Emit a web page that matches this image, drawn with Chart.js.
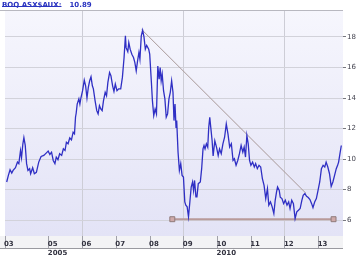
<!DOCTYPE html>
<html>
<head>
<meta charset="utf-8">
<script src="https://cdn.jsdelivr.net/npm/chart.js@4.4.1/dist/chart.umd.min.js"></script>
<style>
    html, body { margin: 0; padding: 0; background: #ffffff; }
    #wrap { width: 360px; height: 256px; position: relative; }
</style>
</head>
<body>
<div id="wrap"><canvas id="priceChart"></canvas></div>
<script>
// BOQ ASX$AUX - cotação semanal

const priceDates = [2003.75,2003.80,2003.85,2003.90,2003.94,2004.01,2004.07,2004.11,2004.16,2004.19,
    2004.23,2004.26,2004.30,2004.34,2004.38,2004.43,2004.46,2004.52,2004.57,2004.63,
    2004.70,2004.77,2004.85,2004.92,2004.98,2005.03,2005.08,2005.13,2005.18,2005.22,
    2005.27,2005.32,2005.38,2005.43,2005.48,2005.52,2005.57,2005.62,2005.67,2005.72,
    2005.76,2005.79,2005.81,2005.84,2005.89,2005.92,2005.95,2006.00,2006.05,2006.09,
    2006.13,2006.17,2006.21,2006.25,2006.29,2006.32,2006.37,2006.42,2006.46,2006.50,
    2006.54,2006.58,2006.62,2006.67,2006.71,2006.75,2006.80,2006.84,2006.89,2006.93,
    2006.97,2007.02,2007.07,2007.13,2007.18,2007.23,2007.27,2007.29,2007.34,2007.37,
    2007.41,2007.46,2007.51,2007.55,2007.59,2007.63,2007.67,2007.70,2007.74,2007.78,
    2007.82,2007.86,2007.90,2007.96,2007.99,2008.04,2008.07,2008.11,2008.15,2008.19,
    2008.23,2008.27,2008.30,2008.33,2008.36,2008.40,2008.44,2008.48,2008.52,2008.56,
    2008.60,2008.64,2008.68,2008.71,2008.74,2008.77,2008.79,2008.83,2008.87,2008.91,
    2008.95,2008.99,2009.03,2009.06,2009.10,2009.14,2009.18,2009.22,2009.26,2009.29,
    2009.32,2009.36,2009.39,2009.43,2009.49,2009.53,2009.57,2009.60,2009.63,2009.67,
    2009.71,2009.74,2009.77,2009.80,2009.84,2009.87,2009.92,2009.97,2010.02,2010.06,
    2010.11,2010.16,2010.21,2010.26,2010.31,2010.36,2010.41,2010.46,2010.50,2010.55,
    2010.60,2010.65,2010.70,2010.75,2010.79,2010.83,2010.87,2010.91,2010.95,2010.99,
    2011.04,2011.09,2011.13,2011.18,2011.23,2011.28,2011.33,2011.38,2011.43,2011.48,
    2011.52,2011.57,2011.62,2011.67,2011.71,2011.75,2011.78,2011.83,2011.86,2011.91,
    2011.96,2012.01,2012.06,2012.11,2012.15,2012.20,2012.25,2012.30,2012.35,2012.40,
    2012.45,2012.50,2012.54,2012.59,2012.64,2012.69,2012.74,2012.79,2012.83,2012.88,
    2012.93,2012.98,2013.03,2013.08,2013.13,2013.18,2013.22,2013.27,2013.32,2013.37,
    2013.42,2013.47,2013.52,2013.56,2013.59,2013.63,2013.67];

const priceValues = [8.5,8.93,9.3,9.08,9.26,9.43,9.8,9.7,10.56,10.1,
    11.0,11.4,10.9,9.7,9.26,9.37,9.04,9.43,9.04,9.13,
    9.8,10.17,10.24,10.39,10.52,10.3,10.45,9.91,9.7,10.13,
    9.96,10.35,10.24,10.67,10.56,11.1,11.0,11.39,11.26,11.76,
    11.65,12.74,13.0,13.6,13.94,13.6,14.0,14.48,15.17,14.8,
    14.0,14.7,15.13,15.39,14.8,14.6,13.83,13.17,12.96,13.5,
    13.28,13.17,13.83,14.37,14.15,15.02,15.67,15.46,14.8,14.43,
    14.91,14.48,14.6,14.6,15.35,16.65,18.07,17.3,17.04,17.63,
    17.2,16.87,16.65,16.32,15.78,16.43,16.98,16.54,18.07,18.44,
    18.0,17.2,17.45,17.2,16.87,15.02,13.83,12.85,13.28,12.96,
    16.1,15.24,16.0,15.13,15.57,14.48,13.94,12.74,12.96,13.94,
    14.37,15.13,14.37,12.52,13.6,12.08,12.52,10.45,9.26,9.7,
    8.93,8.82,7.19,6.98,6.87,6.22,7.19,8.17,8.5,7.95,
    8.6,7.52,7.52,8.39,8.5,9.37,10.67,10.89,10.67,11.0,
    10.78,12.08,12.74,12.08,11.2,10.2,11.2,10.78,10.24,10.67,
    10.35,11.0,11.43,12.3,11.65,10.78,11.0,9.91,10.02,9.59,
    9.91,10.35,10.89,10.45,10.78,10.13,11.54,11.0,9.91,9.59,
    9.8,9.48,9.7,9.37,9.59,9.48,8.72,8.28,7.41,8.06,
    6.98,7.19,6.87,6.43,7.3,7.85,8.17,7.95,7.5,7.41,
    7.08,7.3,6.98,7.19,6.76,7.3,7.08,6.1,6.54,6.65,
    6.76,7.3,7.63,7.74,7.56,7.48,7.35,7.08,6.82,7.19,
    7.41,7.95,8.5,9.37,9.59,9.48,9.8,9.48,9.04,8.21,
    8.5,8.93,9.37,9.59,9.8,10.35,10.89];

// linha de tendência de baixa e suporte
const trendDates = [2007.75, 2012.62];
const trendValues = [18.49, 7.76];
const supportDates = [2008.66, 2013.44];
const supportValues = [6.06, 6.06];

const yTicks = [6, 8, 10, 12, 14, 16, 18];
const xTicks = [2003.70, 2005, 2006, 2007, 2008, 2009, 2010, 2011, 2012, 2013];
const xTickLabels = ['03', '05', '06', '07', '08', '09', '10', '11', '12', '13'];
const xYearLabels = { 2005: '2005', 2010: '2010' };
const xGridYears = [2006, 2009, 2012];

const titleText = 'BOQ ASX$AUX:';
const lastValue = '10.89';

const toPoints = (xs, ys) => xs.map((x, i) => ({ x: x, y: ys[i] }));

const decorPlugin = {
    id: 'decor',
    beforeDraw: (chart) => {
        const { ctx, chartArea } = chart;
        ctx.save();
        // fundo lilás da área do gráfico
        const g = ctx.createLinearGradient(0, chartArea.top, 0, chartArea.bottom);
        g.addColorStop(0, '#f6f6fd');
        g.addColorStop(1, '#e3e3f6');
        ctx.fillStyle = g;
        ctx.fillRect(chartArea.left, chartArea.top, chartArea.right - chartArea.left, chartArea.bottom - chartArea.top);
        // faixa do eixo x
        ctx.fillStyle = '#f3f3f5';
        ctx.fillRect(0, chartArea.bottom, chartArea.right, 13);
        ctx.strokeStyle = '#b8b8c0';
        ctx.lineWidth = 1;
        ctx.beginPath();
        ctx.moveTo(0, chartArea.top - 0.5);
        ctx.lineTo(chartArea.right, chartArea.top - 0.5);
        ctx.stroke();
        ctx.strokeStyle = '#9a9aa0';
        ctx.beginPath();
        ctx.moveTo(0, chartArea.bottom + 12.5);
        ctx.lineTo(chartArea.right, chartArea.bottom + 12.5);
        ctx.stroke();
        ctx.restore();
    },
    afterDraw: (chart) => {
        const { ctx } = chart;
        ctx.save();
        ctx.font = "bold 7px 'DejaVu Sans'";
        ctx.textBaseline = 'top';
        ctx.fillStyle = '#2a34c0';
        ctx.fillText(titleText, 2, 2);
        const w = ctx.measureText(titleText).width;
        ctx.fillRect(2, 6, w, 1);
        ctx.fillText(lastValue, 2 + w + 8, 2);
        ctx.restore();
    }
};

const ctx = document.getElementById('priceChart').getContext('2d');
const priceChart = new Chart(ctx, {
    type: 'line',
    data: {
        datasets: [
            {
                label: 'BOQ', data: toPoints(priceDates, priceValues),
                borderColor: '#2f2fc4', borderWidth: 1.3, pointRadius: 0, tension: 0
            },
            {
                label: 'Tendência', data: toPoints(trendDates, trendValues),
                borderColor: '#a89898', borderWidth: 1, pointRadius: 0
            },
            {
                label: 'Suporte', data: toPoints(supportDates, supportValues),
                borderColor: '#b89a9a', borderWidth: 2,
                pointStyle: 'rect', pointRadius: 3.5,
                pointBackgroundColor: '#cfa9a9', pointBorderColor: '#8f7a7a', pointBorderWidth: 1
            }
        ]
    },
    options: {
        responsive: true, maintainAspectRatio: false,
        animation: false,
        layout: { padding: { top: 11, left: 0, right: 0, bottom: 0 } },
        scales: {
            x: {
                type: 'linear', min: 2003.70, max: 2013.72,
                afterBuildTicks: (s) => { s.ticks = xTicks.map(v => ({ value: v })); },
                afterFit: (s) => { s.height = 20; },
                grid: {
                    color: (c) => (c.tick && xGridYears.includes(c.tick.value)) ? '#cdcdd6' : 'rgba(0,0,0,0)',
                    tickColor: '#a0a0a8', tickLength: 12, drawTicks: true
                },
                border: { display: false },
                ticks: {
                    autoSkip: false, maxRotation: 0, align: 'start', labelOffset: -1, padding: -9,
                    color: '#333340', font: { family: "'DejaVu Sans'", size: 7, weight: 'bold', lineHeight: 1.35 },
                    callback: (v) => {
                        const i = xTicks.indexOf(v);
                        const lbl = i >= 0 ? xTickLabels[i] : '';
                        return xYearLabels[v] ? [lbl, xYearLabels[v]] : lbl;
                    }
                }
            },
            y: {
                position: 'right', min: 4.96, max: 19.7,
                afterBuildTicks: (s) => { s.ticks = yTicks.map(v => ({ value: v })); },
                afterFit: (s) => { s.width = 17; },
                grid: { color: '#d2d2da', tickColor: '#777780', tickLength: 3 },
                border: { display: false },
                ticks: { padding: 1, color: '#444450', font: { family: "'DejaVu Sans'", size: 7 } }
            }
        },
        plugins: { legend: { display: false }, tooltip: { enabled: false } }
    },
    plugins: [decorPlugin]
});
</script>
</body>
</html>
